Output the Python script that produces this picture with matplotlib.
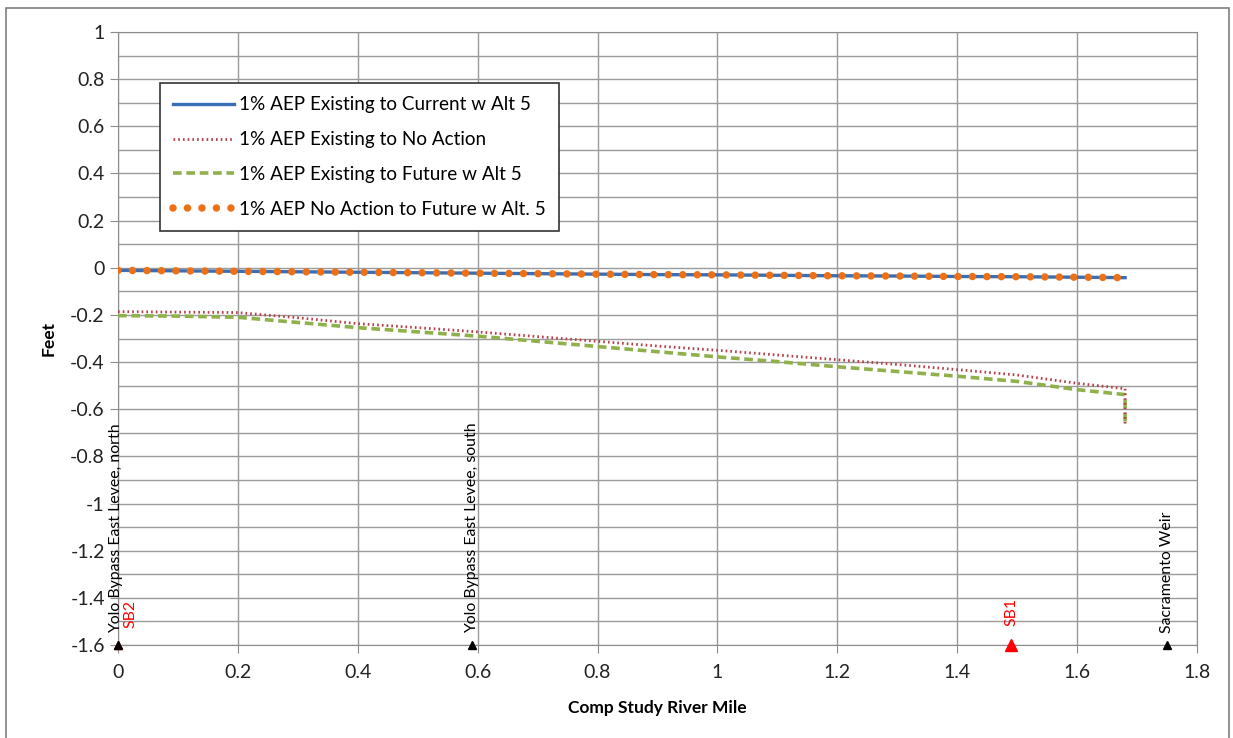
import numpy as np
import matplotlib
matplotlib.use("Agg")
import matplotlib.pyplot as plt
from matplotlib.patches import Rectangle

plt.rcParams['font.family'] = ['Lato', 'DejaVu Sans']

# river mile stations for the profile lines
rm = [0.0, 0.1, 0.2, 0.3, 0.4, 0.5, 0.6, 0.7, 0.8, 0.9, 1.0, 1.1, 1.2, 1.3, 1.4, 1.5, 1.6, 1.68, 1.68]
cur_alt5 = [-0.011, -0.013, -0.015, -0.017, -0.019, -0.021, -0.023, -0.025, -0.027, -0.029, -0.030, -0.032,
            -0.034, -0.035, -0.037, -0.038, -0.040, -0.042, -0.042]
no_action = [-0.186, -0.188, -0.19, -0.212, -0.237, -0.254, -0.272, -0.292, -0.312, -0.332, -0.350, -0.370,
             -0.390, -0.410, -0.432, -0.455, -0.490, -0.513, -0.665]
fut_alt5 = [-0.203, -0.205, -0.21, -0.232, -0.254, -0.272, -0.290, -0.312, -0.334, -0.356, -0.378, -0.398,
            -0.420, -0.440, -0.460, -0.482, -0.517, -0.538, -0.665]
na_to_fut = [-0.011, -0.013, -0.015, -0.017, -0.019, -0.021, -0.023, -0.025, -0.027, -0.029, -0.030, -0.032,
             -0.034, -0.035, -0.037, -0.038, -0.040, -0.042, -0.042]

# location markers along the bottom
loc_x = [0.0, 0.59, 1.75]
loc_names = ['Yolo Bypass East Levee, north', 'Yolo Bypass East Levee, south', 'Sacramento Weir']
sb_x = [0.0, 1.49]
sb_names = ['SB2', 'SB1']

fig = plt.figure(figsize=(12.33, 7.38), dpi=100)
ax = fig.add_axes([118 / 1233, 1 - 645 / 738, (1197 - 118) / 1233, (645 - 32) / 738])

ax.plot(rm, cur_alt5, color='#3a6eb5', lw=2.4, label='1% AEP Existing to Current w Alt 5', zorder=3)
ax.plot(rm, no_action, color='#b5404a', lw=2, ls=(0, (0.6, 1.1)), label='1% AEP Existing to No Action', zorder=4)
ax.plot(rm, fut_alt5, color='#8fb04a', lw=2.6, ls=(0, (2.4, 1.3)), label='1% AEP Existing to Future w Alt 5', zorder=3)
ax.plot(rm[:-1], na_to_fut[:-1], color='#ee7014', lw=5.4, ls=(0, (0.001, 1.93)), dash_capstyle='round',
        label='1% AEP No Action to Future w Alt. 5', zorder=5)

for x, name in zip(loc_x, loc_names):
    ax.plot(x, -1.6, marker='^', color='black', ms=6, clip_on=False, zorder=6)
    ax.text(x - 0.004 if x == 0 else x, -1.55, name, rotation=90, ha='center', va='bottom', fontsize=11.4,
            color='black')
for x, name in zip(sb_x, sb_names):
    ax.plot(x, -1.6, marker='^', color='red', ms=8 if x > 0 else 6, clip_on=False, zorder=5)
    ax.text(x + 0.02 if x == 0 else x, -1.53 if x == 0 else -1.52, name, rotation=90, ha='center',
            va='bottom', fontsize=11.4, color='red')

ax.set_xlim(0, 1.8)
ax.set_ylim(-1.6, 1)
ax.set_xticks(np.arange(0, 1.81, 0.2))
ax.set_xticklabels(['0', '0.2', '0.4', '0.6', '0.8', '1', '1.2', '1.4', '1.6', '1.8'])
ax.set_yticks(np.arange(-1.6, 1.01, 0.2))
ax.set_yticklabels(['-1.6', '-1.4', '-1.2', '-1', '-0.8', '-0.6', '-0.4', '-0.2', '0', '0.2', '0.4', '0.6',
                    '0.8', '1'])
ax.set_yticks(np.arange(-1.6, 1.01, 0.1), minor=True)
ax.tick_params(axis='y', which='minor', length=0)
ax.tick_params(axis='both', which='major', length=6, color='#8c8c8c', labelsize=14, colors='#222222')
ax.tick_params(axis='x', pad=8)
ax.grid(True, which='major', color='#9a9a9a', lw=1)
ax.grid(True, which='minor', axis='y', color='#9a9a9a', lw=1)
for s in ax.spines.values():
    s.set_color('#8c8c8c')

ax.set_xlabel('Comp Study River Mile', fontsize=12.5, fontweight='bold', labelpad=13)
ax.set_ylabel('Feet', fontsize=12.5, fontweight='bold', labelpad=10)

leg = ax.legend(loc='upper left', bbox_to_anchor=((160 - 118) / 1079, (645 - 83) / 613), fontsize=13.6,
                frameon=True, fancybox=False, edgecolor='#333333', framealpha=1, handlelength=3.2,
                labelspacing=0.95, borderpad=0.7, handletextpad=0.3, borderaxespad=0)
leg.get_frame().set_linewidth(1.2)

fig.patches.append(Rectangle((6 / 1233, -0.01), (1229 - 6) / 1233, 1 - 8 / 738 + 0.01, transform=fig.transFigure,
                             fill=False, edgecolor='#7f7f7f', lw=1.2))

fig.savefig('out.png', dpi=100)
